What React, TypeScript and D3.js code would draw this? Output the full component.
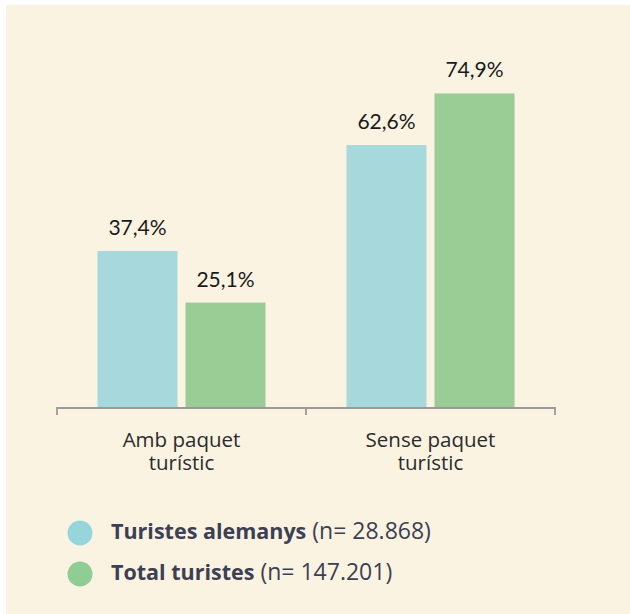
import React from "react";
import * as d3 from "d3";

const categories = ["Amb paquet|turístic", "Sense paquet|turístic"];
const seriesNames = ["Turistes alemanys", "Total turistes"];
const seriesN = ["(n= 28.868)", "(n= 147.201)"];
const alemanys = [37.4, 62.6];
const total = [25.1, 74.9];
const barColors = ["#a7d8dc", "#9acc95"];
const legendColors = ["#96d5dc", "#8fcd95"];

const W = 630;
const H = 614;
const FONT = "Lato, 'Open Sans', sans-serif";
const FONT2 = "'Open Sans', sans-serif";

export default function App() {
  const x0 = d3.scaleBand().domain(categories).range([57, 555]).padding(0);
  const x1 = d3
    .scaleBand()
    .domain(seriesNames)
    .range([0, x0.bandwidth()])
    .paddingInner(8 / 88)
    .paddingOuter(0.46);
  const y = d3.scaleLinear().domain([0, 75]).range([408, 93]);
  const values = [alemanys, total];
  const fmt = (v: number) => d3.format(".1f")(v).replace(".", ",") + "%";

  return (
    <div style={{ position: "fixed", left: 0, top: 0 }}>
      <svg width={W} height={H} style={{ display: "block", fontFamily: FONT }}>
        <rect x={0} y={0} width={W} height={H} fill="#ffffff" />
        <rect x={6} y={5} width={W - 6} height={H - 5} fill="#faf3e2" />
        {categories.map((c, ci) => {
          const cx = (x0(c) ?? 0) + x0.bandwidth() / 2;
          return (
            <g key={c}>
              {seriesNames.map((s, si) => {
                const v = values[si][ci];
                const bx = (x0(c) ?? 0) + (x1(s) ?? 0);
                return (
                  <g key={s}>
                    <rect
                      x={bx}
                      y={y(v)}
                      width={x1.bandwidth()}
                      height={y(0) - y(v)}
                      fill={barColors[si]}
                    />
                    <text
                      x={bx + x1.bandwidth() / 2}
                      y={y(v) - 16}
                      textAnchor="middle"
                      fontSize={21}
                      fill="#1a1a1a"
                    >
                      {fmt(v)}
                    </text>
                  </g>
                );
              })}
              <text
                y={447}
                textAnchor="middle"
                fontSize={20.5}
                fontFamily={FONT2}
                fill="#2b2b2b"
              >
                {c.split("|").map((line, li) => (
                  <tspan key={li} x={cx} dy={li === 0 ? 0 : 23}>
                    {line}
                  </tspan>
                ))}
              </text>
            </g>
          );
        })}
        <path
          d={`M${x0.range()[0]},415V408H${x0.range()[1]}V415`}
          fill="none"
          stroke="#9a9a9a"
          strokeWidth={1.8}
        />
        {categories.slice(1).map((c) => (
          <line
            key={c}
            x1={x0(c)}
            x2={x0(c)}
            y1={408}
            y2={415}
            stroke="#9a9a9a"
            strokeWidth={1.8}
          />
        ))}
        {seriesNames.map((s, i) => (
          <g key={s} transform={`translate(0,${533 + i * 41})`}>
            <circle cx={80} cy={0} r={12.5} fill={legendColors[i]} />
            <text x={111} y={6} fontFamily={FONT2} fill="#3c4052">
              <tspan fontWeight="bold" fontSize={21.5}>{s}</tspan>
              <tspan fontSize={23}> {seriesN[i]}</tspan>
            </text>
          </g>
        ))}
      </svg>
    </div>
  );
}
